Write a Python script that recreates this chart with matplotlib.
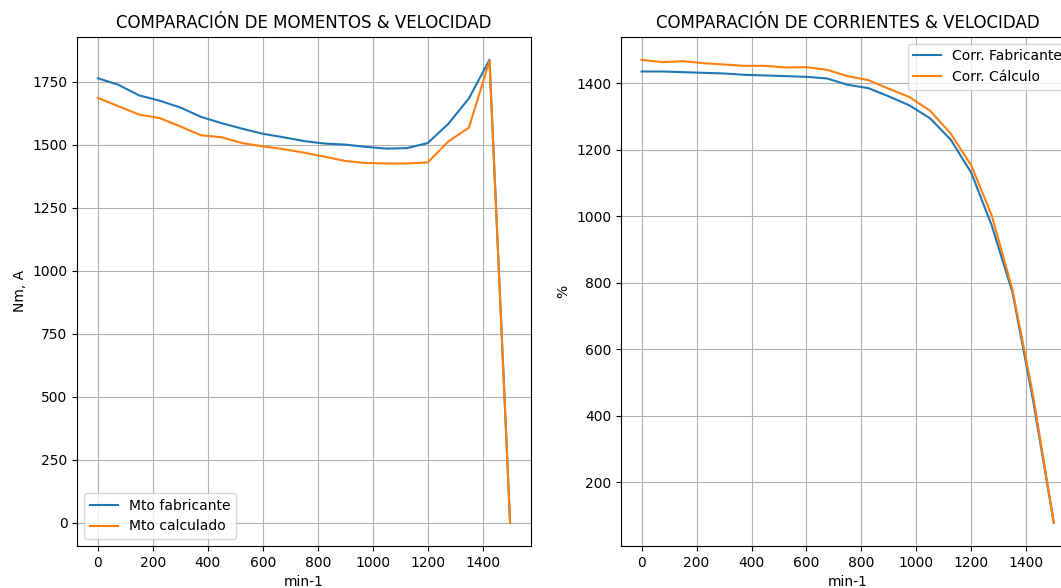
import matplotlib
matplotlib.use("Agg")
import matplotlib.pyplot as plt

# Speed points (min-1)
velocidad = [0, 75, 150, 225, 300, 375, 450, 525, 600, 675, 750,
             825, 900, 975, 1050, 1125, 1200, 1275, 1350, 1425, 1500]

# Torque curves (Nm)
mto_fabricante = [1763, 1737, 1695, 1674, 1647, 1610, 1585, 1563, 1543, 1529, 1514,
                  1504, 1500, 1491, 1484, 1486, 1506, 1582, 1683, 1836, 0]
mto_calculado = [1685, 1652, 1619, 1605, 1572, 1537, 1529, 1506, 1493, 1482, 1468,
                 1452, 1435, 1427, 1425, 1425, 1429, 1512, 1567, 1832, 0]

# Current curves (%)
corr_fabricante = [1435, 1435, 1433, 1431, 1429, 1425, 1423, 1421, 1419, 1414, 1395,
                   1385, 1360, 1333, 1294, 1230, 1130, 970, 770, 445, 78]
corr_calculo = [1470, 1463, 1466, 1460, 1456, 1452, 1452, 1447, 1448, 1440, 1421,
                1409, 1383, 1358, 1317, 1248, 1152, 1000, 778, 460, 78]

W, H = 1061, 588
fig = plt.figure(figsize=(W / 100, H / 100), dpi=100)

ax1 = fig.add_axes([77.3 / W, 42 / H, 453.4 / W, 509.3 / H])
ax2 = fig.add_axes([621 / W, 42 / H, 453.4 / W, 509.3 / H])

ax1.plot(velocidad, mto_fabricante, label="Mto fabricante")
ax1.plot(velocidad, mto_calculado, label="Mto calculado")
ax1.set_title("COMPARACIÓN DE MOMENTOS & VELOCIDAD")
ax1.set_xlabel("min-1")
ax1.set_ylabel("Nm, A")
ax1.grid(True)
ax1.legend(loc="lower left")

ax2.plot(velocidad, corr_fabricante, label="Corr. Fabricante")
ax2.plot(velocidad, corr_calculo, label="Corr. Cálculo")
ax2.set_title("COMPARACIÓN DE CORRIENTES & VELOCIDAD")
ax2.set_xlabel("min-1")
ax2.set_ylabel("%")
ax2.grid(True)
ax2.legend(loc="upper right")

fig.savefig("out.png", dpi=100)
